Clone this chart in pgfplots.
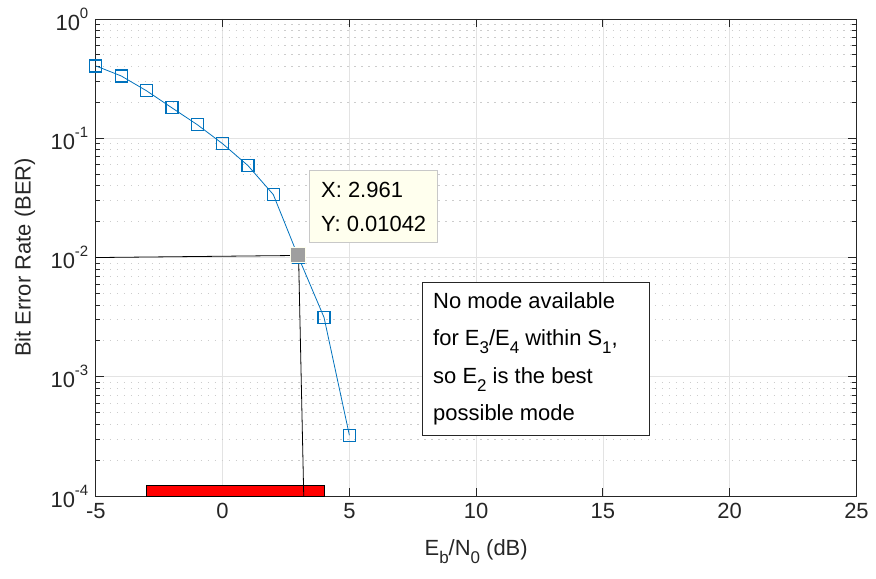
\documentclass[border=0pt]{standalone}
\usepackage{pgfplots}
\pgfplotsset{compat=1.18}
\usepackage{fontspec}
\setmainfont{Liberation Sans}
\definecolor{mblue}{RGB}{0,114,189}
\definecolor{axgray}{RGB}{38,38,38}
\definecolor{tipbg}{RGB}{255,255,238}
\definecolor{tipedge}{RGB}{200,200,200}
\newcommand\msub[1]{\raisebox{-0.38em}{\fontsize{17}{17}\selectfont #1}}
\newcommand\msup[1]{\raisebox{0.55em}{\fontsize{15}{15}\selectfont #1}}
\begin{document}
\fontsize{22}{26}\selectfont
\begin{tikzpicture}
\begin{axis}[
  scale only axis, width=762pt, height=478pt,
  xmin=-5, xmax=25, ymin=1e-4, ymax=1,
  ymode=log, log basis y=10,
  xtick={-5,0,5,10,15,20,25},
  xticklabels={-5,0,5,10,15,20,25},
  ytick={1e-4,1e-3,1e-2,1e-1,1},
  minor ytick={2e-4,3e-4,4e-4,5e-4,6e-4,7e-4,8e-4,9e-4,
               2e-3,3e-3,4e-3,5e-3,6e-3,7e-3,8e-3,9e-3,
               2e-2,3e-2,4e-2,5e-2,6e-2,7e-2,8e-2,9e-2,
               2e-1,3e-1,4e-1,5e-1,6e-1,7e-1,8e-1,9e-1},
  yticklabels={10\msup{-4},10\msup{-3},10\msup{-2},10\msup{-1},10\msup{0}},
  tick label style={font=\fontsize{22}{26}\selectfont, text=axgray},
  label style={font=\fontsize{22}{26}\selectfont, text=axgray},
  xlabel={E\msub{b}/N\msub{0} (dB)},
  ylabel={Bit Error Rate (BER)},
  xlabel style={at={(axis description cs:0.5,-0.117)}, anchor=center},
  ylabel style={at={(axis description cs:-0.0932,0.5)}, anchor=center},
  xmajorgrids=true, ymajorgrids=true, yminorgrids=true,
  major grid style={gray!22, line width=0.8pt},
  minor grid style={gray!40, line width=0.9pt, dash pattern=on 1.5pt off 5.5pt},
  axis line style={axgray, line width=0.9pt},
  tick style={axgray, line width=0.9pt},
  major tick length=8pt, minor tick length=4pt,
  tick align=inside,
  xtick pos=both, ytick pos=both,
  clip=false,
]
% red bar
\addplot[fill=red, draw=black, line width=0.8pt] coordinates {(-3,1e-4) (4,1e-4) (4,1.24e-4) (-3,1.24e-4)} -- cycle;
% black annotation lines
\addplot[black, line width=0.8pt] coordinates {(-5,0.0100) (2.8,0.0104)};
\addplot[black, line width=0.8pt] coordinates {(3.0,0.0095) (3.2,1e-4)};
% BER curve
\addplot[mblue, line width=0.8pt, mark=square, mark size=6pt, mark options={line width=1.3pt, solid}]
  coordinates {(-5,0.404) (-4,0.333) (-3,0.25) (-2,0.18) (-1,0.13) (0,0.090) (1,0.059) (2,0.0337) (3,0.0100) (4,0.00315) (5,0.000324)};
% data tip marker
\addplot[only marks, mark=square*, mark size=7.5pt, mark options={fill=gray!75, draw=tipbg, line width=1pt}]
  coordinates {(2.961,0.01042)};
% data tip box
\draw[tipedge, fill=tipbg, line width=0.8pt] (axis cs:3.43,0.0535) rectangle (axis cs:8.47,0.01337);
\node[anchor=west, align=left, inner sep=0pt, text=black, font=\fontsize{22}{34}\selectfont] at (axis cs:3.88,0.0267) {X: 2.961\\Y: 0.01042};
% text box
\draw[axgray, fill=white, line width=0.9pt] (axis cs:7.87,0.00618) rectangle (axis cs:16.85,0.000324);
\node[anchor=west, align=left, inner sep=0pt, text=black, font=\fontsize{22}{37.5}\selectfont] at (axis cs:8.3,0.00142)
  {No mode available\\for E\msub{3}/E\msub{4} within S\msub{1},\\so E\msub{2} is the best\\possible mode};
\end{axis}
\path ([xshift=-96pt,yshift=-83pt]current axis.south west) rectangle ([xshift=18pt,yshift=19pt]current axis.north east);
\end{tikzpicture}
\end{document}
